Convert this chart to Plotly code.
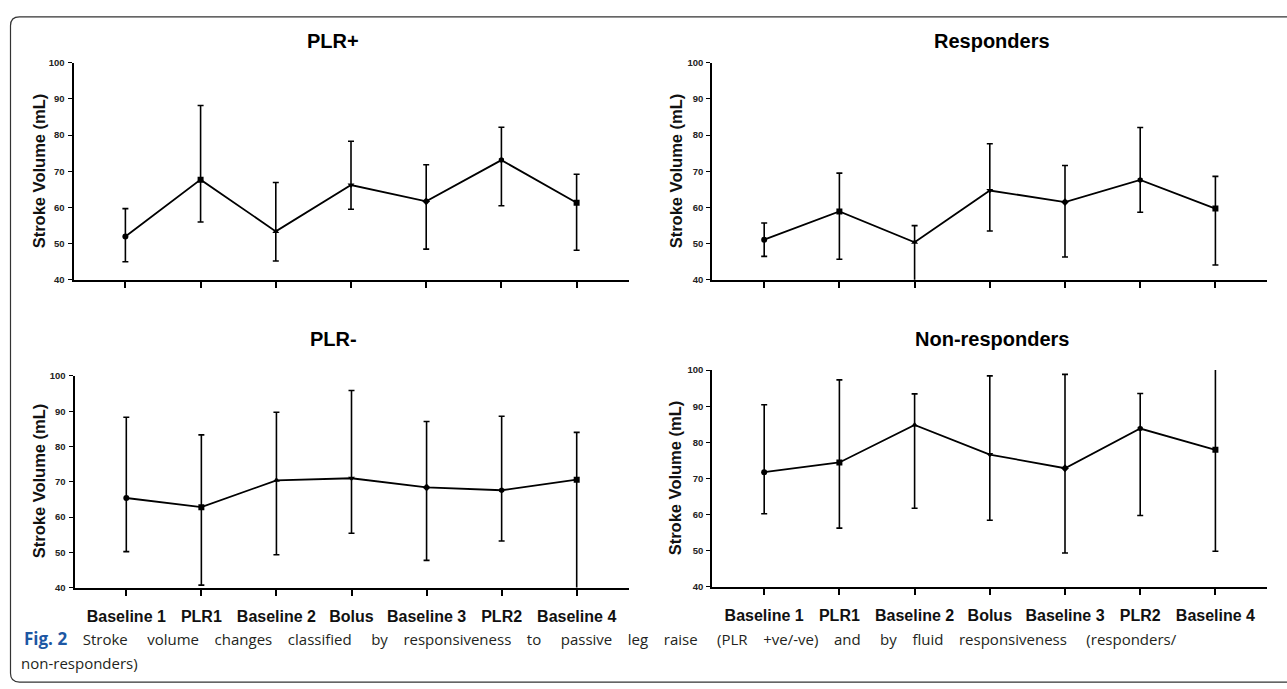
import plotly.graph_objects as go

W, H = 1287, 689

categories = ["Baseline 1", "PLR1", "Baseline 2", "Bolus", "Baseline 3", "PLR2", "Baseline 4"]
y_ticks = [40, 50, 60, 70, 80, 90, 100]

plr_pos_mean = [52.0, 67.7, 53.4, 66.2, 61.7, 73.1, 61.3]
plr_pos_upper = [59.7, 88.2, 66.9, 78.3, 71.8, 82.2, 69.2]
plr_pos_lower = [45.0, 56.0, 45.2, 59.5, 48.5, 60.5, 48.2]

resp_mean = [51.1, 58.9, 50.4, 64.7, 61.5, 67.6, 59.7]
resp_upper = [55.7, 69.5, 55.0, 77.6, 71.6, 82.1, 68.6]
resp_lower = [46.5, 45.7, 38.0, 53.5, 46.3, 58.7, 44.1]

plr_neg_mean = [65.4, 62.8, 70.4, 71.0, 68.4, 67.6, 70.6]
plr_neg_upper = [88.3, 83.3, 89.7, 95.9, 87.1, 88.6, 84.0]
plr_neg_lower = [50.2, 40.7, 49.3, 55.4, 47.7, 53.2, 38.0]

nonresp_mean = [71.7, 74.4, 84.8, 76.6, 72.8, 83.8, 77.9]
nonresp_upper = [90.4, 97.3, 93.4, 98.4, 98.8, 93.5, 101.0]
nonresp_lower = [60.2, 56.2, 61.7, 58.4, 49.3, 59.7, 49.8]

panel_titles = ["PLR+", "Responders", "PLR-", "Non-responders"]
marker_symbols = ["circle", "square", "triangle-up", "triangle-down", "diamond", "hexagon", "square"]

caption_words = ["Stroke", "volume", "changes", "classified", "by", "responsiveness", "to",
                 "passive", "leg", "raise", "(PLR", "+ve/-ve)", "and", "by", "fluid",
                 "responsiveness", "(responders/"]
caption_line2 = "non-responders)"

FONT = "Liberation Sans, Arial, sans-serif"


def px(x):
    return x / W


def py(y):
    return 1 - y / H


# panel geometry in pixels: (x_left, x_right, y_top(100), y_bottom(40))
panels = [
    (73.5, 628.5, 57.7, 278.3),
    (712.3, 1267.3, 57.7, 278.3),
    (74.5, 628.5, 376.0, 591.0),
    (712.3, 1267.3, 370.0, 590.0),
]
title_pos = [(333, 36), (992, 36), (333, 338), (992, 338)]
ytitle_pos = [(39, 168), (676, 168), (39, 483), (675, 480)]

series = [
    (plr_pos_mean, plr_pos_upper, plr_pos_lower),
    (resp_mean, resp_upper, resp_lower),
    (plr_neg_mean, plr_neg_upper, plr_neg_lower),
    (nonresp_mean, nonresp_upper, nonresp_lower),
]

fig = go.Figure()
layout = dict(
    width=W, height=H,
    margin=dict(l=0, r=0, t=0, b=0),
    paper_bgcolor="white", plot_bgcolor="white",
    showlegend=False,
    font=dict(family=FONT, color="black"),
)
annotations = []

for i, ((m, u, l), (x0, x1, yt, yb)) in enumerate(zip(series, panels)):
    n = i + 1
    xa = "x" if n == 1 else f"x{n}"
    ya = "y" if n == 1 else f"y{n}"
    fig.add_trace(go.Scatter(
        x=categories, y=m, xaxis=xa, yaxis=ya,
        mode="lines+markers",
        line=dict(color="black", width=1.8),
        marker=dict(symbol=marker_symbols, size=6, color="black"),
        error_y=dict(type="data", symmetric=False,
                     array=[a - b for a, b in zip(u, m)],
                     arrayminus=[b - c for b, c in zip(m, l)],
                     color="black", thickness=1.6, width=3),
        cliponaxis=True,
    ))
    bottom = i >= 2
    layout["xaxis" if n == 1 else f"xaxis{n}"] = dict(
        domain=[px(x0), px(x1)], anchor=ya,
        type="category", range=[-0.69, 6.69],
        showline=True, linecolor="black", linewidth=2,
        ticks="outside", ticklen=6, tickwidth=1.6, tickcolor="black",
        showgrid=False, zeroline=False,
        showticklabels=bottom,
        tickfont=dict(family=FONT, size=16, color="#111", weight="bold"),
        ticklabelstandoff=7,
    )
    layout["yaxis" if n == 1 else f"yaxis{n}"] = dict(
        domain=[py(yb), py(yt)], anchor=xa,
        range=[40, 100], tickvals=y_ticks,
        showline=True, linecolor="black", linewidth=2,
        ticks="outside", ticklen=4, tickwidth=1.4, tickcolor="black",
        showgrid=False, zeroline=False,
        tickfont=dict(family=FONT, size=9.5, color="#222", weight="bold"),
        ticklabelstandoff=1,
    )
    tx, ty = title_pos[i]
    annotations.append(dict(
        text=panel_titles[i], x=px(tx), y=py(ty), xref="paper", yref="paper",
        xanchor="center", yanchor="middle", showarrow=False,
        font=dict(family=FONT, size=20, color="black", weight="bold"),
    ))
    ax_, ay_ = ytitle_pos[i]
    annotations.append(dict(
        text="Stroke Volume (mL)", x=px(ax_), y=py(ay_), xref="paper", yref="paper",
        xanchor="center", yanchor="middle", showarrow=False, textangle=-90,
        font=dict(family=FONT, size=16.5, color="#111", weight="bold"),
    ))

CAP_FONT = "Open Sans, Noto Sans, sans-serif"
# justified first caption line: widen some word gaps
caption_text = caption_words[0]
for k, w in enumerate(caption_words[1:]):
    caption_text += ("&nbsp;" * (5 if k % 3 == 0 else 4)) + w
annotations.append(dict(
    text="<span style='color:#1d57a3;font-size:17px'><b>Fig. 2</b></span>" + "&nbsp;" * 4 + caption_text,
    x=px(22), y=py(643), xref="paper", yref="paper",
    xanchor="left", yanchor="middle", showarrow=False, align="left",
    font=dict(family=CAP_FONT, size=15, color="#231f20"),
))
annotations.append(dict(
    text=caption_line2,
    x=px(19), y=py(668), xref="paper", yref="paper",
    xanchor="left", yanchor="middle", showarrow=False, align="left",
    font=dict(family=CAP_FONT, size=15, color="#231f20"),
))
layout["annotations"] = annotations

# rounded frame around the figure (cut by the image edges)
r = 9
x_l, y_t, y_b = 10.5, 11, 687
path = (f"M {px(W + 5)},{py(y_t)} L {px(x_l + r)},{py(y_t)} "
        f"Q {px(x_l)},{py(y_t)} {px(x_l)},{py(y_t + r)} "
        f"L {px(x_l)},{py(y_b - r)} Q {px(x_l)},{py(y_b)} {px(x_l + r)},{py(y_b)} "
        f"L {px(W + 5)},{py(y_b)}")
layout["shapes"] = [dict(type="path", path=path, xref="paper", yref="paper",
                         line=dict(color="#333", width=1.2))]

fig.update_layout(**layout)
fig.write_html("out.html", config={"displayModeBar": False},
               post_script="document.body.style.margin='0px';")
